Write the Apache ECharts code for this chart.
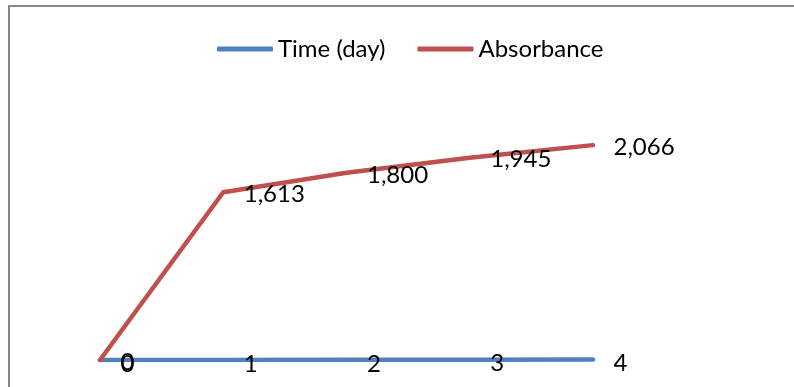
<!DOCTYPE html>
<html>
<head>
<meta charset="utf-8">
<script src="https://cdn.jsdelivr.net/npm/echarts@6/dist/echarts.min.js"></script>
<style>
  html, body { margin: 0; padding: 0; background: #ffffff; }
  #chart { width: 794px; height: 387px; }
</style>
</head>
<body>
<div id="chart"></div>
<script>
// Category positions along the horizontal axis
const categories = ['1', '2', '3', '4', '5'];
// Series values
const timeDays = [0, 1, 2, 3, 4];
const absorbance = [0, 1613, 1800, 1945, 2066];
const seriesNames = ['Time (day)', 'Absorbance'];

const FONT = 'Lato';
const fmt = v => Math.round(v).toLocaleString('en-US');

const chart = echarts.init(document.getElementById('chart'), null, { renderer: 'canvas' });

function lineSeries(name, values, color, labelOffsetY) {
  return {
    name: name,
    type: 'line',
    data: values,
    symbol: 'circle',
    symbolSize: 1,
    showSymbol: true,
    itemStyle: { color: color },
    lineStyle: { color: color, width: 4.5, cap: 'round', join: 'round' },
    label: {
      show: true,
      position: 'right',
      distance: 20,
      offset: [0, labelOffsetY],
      color: '#000',
      fontFamily: FONT,
      fontSize: 24,
      formatter: p => fmt(p.value)
    },
    emphasis: { disabled: true },
    animation: false
  };
}

chart.setOption({
  backgroundColor: '#ffffff',
  animation: false,
  graphic: [{
    type: 'rect',
    shape: { x: 9, y: 6, width: 820, height: 420 },
    style: { fill: 'none', stroke: '#878787', lineWidth: 2 },
    silent: true
  }],
  legend: {
    data: seriesNames,
    left: 212,
    top: 32,
    icon: 'roundRect',
    itemWidth: 56,
    itemHeight: 5,
    itemGap: 32,
    textStyle: { fontFamily: FONT, fontSize: 24, color: '#000' }
  },
  grid: { left: 100, right: 201, top: 100, bottom: 27, containLabel: false },
  xAxis: {
    type: 'category',
    data: categories,
    boundaryGap: false,
    show: false
  },
  yAxis: {
    type: 'value',
    min: 0,
    max: 2500,
    show: false
  },
  series: [
    lineSeries(seriesNames[0], timeDays, '#4F81BD', 4),
    lineSeries(seriesNames[1], absorbance, '#C0504D', 2)
  ]
});
</script>
</body>
</html>
